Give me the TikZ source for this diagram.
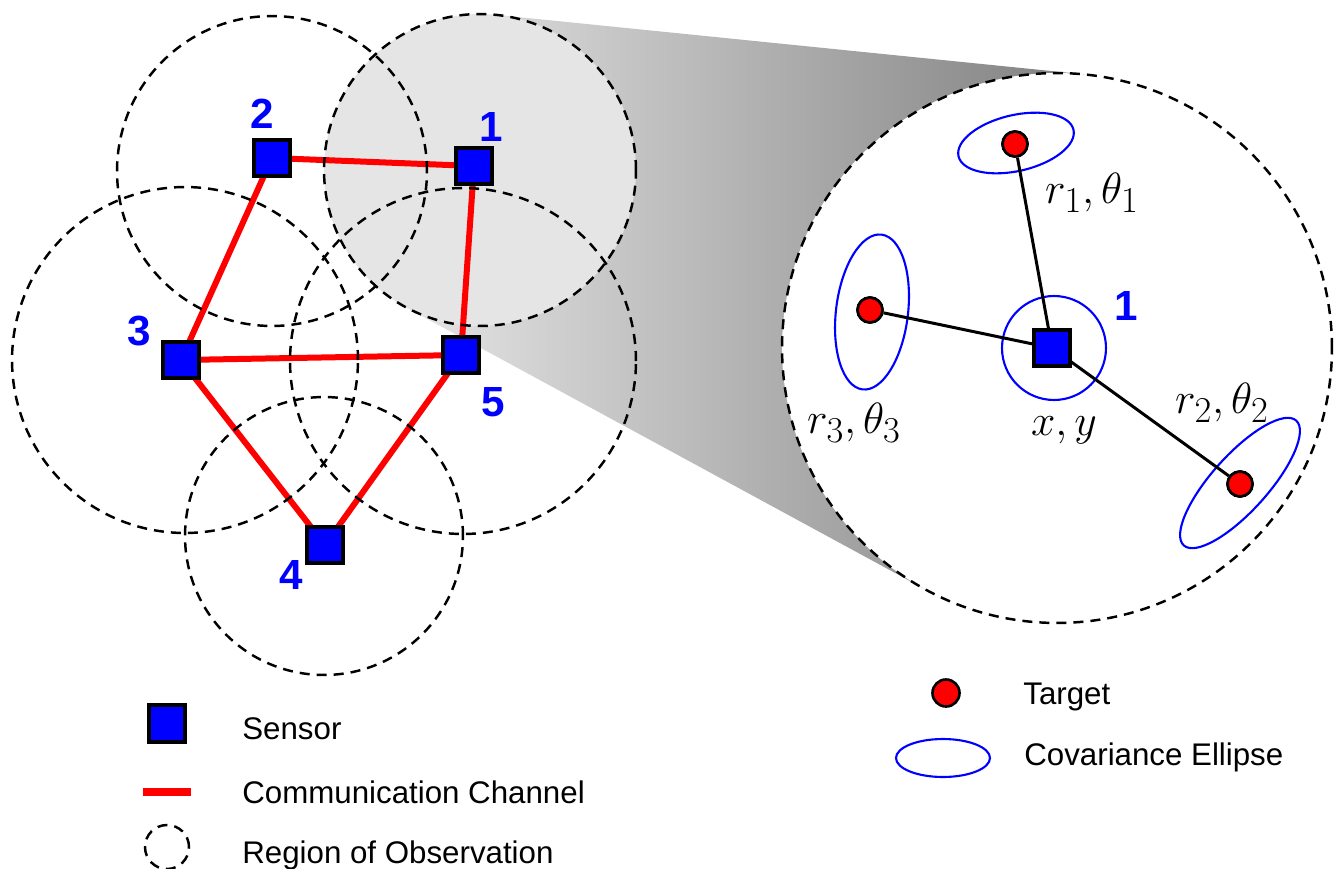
\documentclass[tikz,border=0pt]{standalone}
\usepackage[no-math]{fontspec}
\newfontfamily\lsans{Liberation Sans}
\definecolor{sblue}{RGB}{0,0,255}
\definecolor{sred}{RGB}{255,0,0}
\begin{document}
\begin{tikzpicture}[x=0.02cm,y=-0.02cm,
  sensor/.style={draw=black, fill=sblue, line width=0.08cm, minimum size=0.72cm, inner sep=0pt},
  target/.style={circle, draw=black, fill=sred, line width=1.5pt, minimum size=0.5cm, inner sep=0pt},
  num/.style={text=sblue, font=\lsans\bfseries\fontsize{24}{26}\selectfont, inner sep=0pt},
  mlabel/.style={font=\Huge, inner sep=0pt},
  legtext/.style={anchor=base west, inner sep=0pt, font=\lsans\fontsize{17.8}{20}\selectfont},
  channel/.style={draw=sred, line width=0.12cm},
  region/.style={draw=black, line width=1.4pt, dash pattern=on 5.7pt off 4pt},
  link/.style={draw=black, line width=1.7pt},
  cov/.style={draw=sblue, line width=1.2pt}]
\useasboundingbox (0,0) rectangle (1343,869);

% zoom funnel
\coordinate (c1) at (480,170);
\coordinate (cz) at (1057,348);
\coordinate (ta) at (495.7,14.8);
\coordinate (tb) at (1084.7,74.4);
\coordinate (tc) at (925.7,589.6);
\coordinate (td) at (405.5,307.1);
\shade[left color=black!10, right color=black!50] (ta) -- (tb) -- (tc) -- (td) -- cycle;
\fill[black!10] (c1) circle [radius=3.12cm];
\fill[white] (cz) circle [radius=5.5cm];

% sensors
\node[sensor] (s1) at (474,166) {};
\node[sensor] (s2) at (272,158) {};
\node[sensor] (s3) at (181,360) {};
\node[sensor] (s5) at (461,355) {};
\node[sensor] (s4) at (325,545) {};

% channels
\draw[channel] (s2.center) -- (s1.center);
\draw[channel] (s1.center) -- (s5.center);
\draw[channel] (s2.center) -- (s3.center);
\draw[channel] (s3.center) -- (s5.center);
\draw[channel] (s3.center) -- (s4.center);
\draw[channel] (s5.center) -- (s4.center);

% regions of observation
\draw[region] (c1) circle [radius=3.12cm];
\draw[region] (272,171) circle [radius=3.1cm];
\draw[region] (185,360) circle [radius=3.46cm];
\draw[region] (463,361) circle [radius=3.46cm];
\draw[region] (324,536) circle [radius=2.78cm];
\draw[region] (cz) circle [radius=5.5cm];

% redraw sensors on top
\node[sensor] at (s1) {};
\node[sensor] at (s2) {};
\node[sensor] at (s3) {};
\node[sensor] at (s5) {};
\node[sensor] at (s4) {};

\node[num] (n1) at (491,127) {1};
\node[num] (n2) at (262,114) {2};
\node[num] (n3) at (139,331) {3};
\node[num] (n5) at (493,402) {5};
\node[num] (n4) at (291,575) {4};

% zoomed view
\coordinate (bc) at (1054,348);
\draw[cov] (bc) circle [radius=1.04cm];
\draw[cov, rotate around={13:(1016,143)}] (1016,143) ellipse [x radius=1.18cm, y radius=0.56cm];
\draw[cov, rotate around={48:(1240,483)}] (1240,483) ellipse [x radius=1.68cm, y radius=0.56cm];
\draw[cov, rotate around={83:(872,312)}] (872,312) ellipse [x radius=1.56cm, y radius=0.72cm];

\node[target] (t1) at (1015,144) {};
\node[target] (t2) at (1240,484) {};
\node[target] (t3) at (870,310) {};
\node[sensor] (b1) at (1052,348) {};
\draw[link] (b1.center) -- (t1);
\draw[link] (b1.center) -- (t2);
\draw[link] (b1.center) -- (t3);
\node[sensor] at (b1) {};
\node[target] at (t1) {};
\node[target] at (t2) {};
\node[target] at (t3) {};

\node[num] (bn1) at (1126,306) {1};
\node[mlabel] (l1) at (1092,193) {$r_1,\theta_1$};
\node[mlabel] (l2) at (1222,403) {$r_2,\theta_2$};
\node[mlabel] (l3) at (854,423) {$r_3,\theta_3$};
\node[mlabel] (lxy) at (1064,430) {$x,y$};

% legend left
\node[sensor, minimum size=0.74cm] (ls) at (167,723) {};
\node[legtext] (lst) at (242,739) {Sensor};
\coordinate (lca) at (143,792);
\coordinate (lcb) at (191,792);
\draw[draw=sred, line width=0.16cm] (lca) -- (lcb);
\node[legtext] (lct) at (242,803) {Communication Channel};
\draw[region] (167,847) circle [radius=0.44cm];
\node[legtext] (lrt) at (242,863) {Region of Observation};

% legend right
\node[target, minimum size=0.54cm] (lt) at (946,693) {};
\node[legtext] (ltt) at (1023,704) {Target};
\draw[cov] (943,758) ellipse [x radius=0.94cm, y radius=0.38cm];
\node[legtext] (let) at (1024,765) {Covariance Ellipse};
\end{tikzpicture}
\end{document}
